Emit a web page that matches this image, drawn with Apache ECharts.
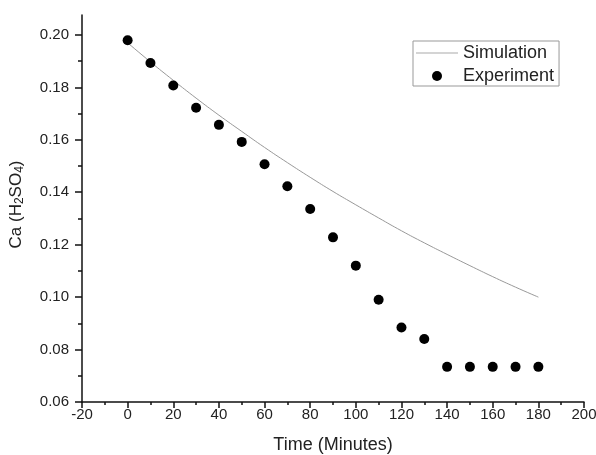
<!DOCTYPE html>
<html>
<head>
<meta charset="utf-8">
<script src="https://cdn.jsdelivr.net/npm/echarts@6/dist/echarts.min.js"></script>
<style>
  html, body { margin: 0; padding: 0; background: #fff; }
  #chart { width: 596px; height: 455px; }
</style>
</head>
<body>
<div id="chart"></div>
<script>
// time points (minutes)
var times = [0, 10, 20, 30, 40, 50, 60, 70, 80, 90, 100, 110, 120, 130, 140, 150, 160, 170, 180];
// simulated curve
var simulation = [0.197, 0.1897, 0.1827, 0.1759, 0.1694, 0.1632, 0.1571, 0.1513, 0.1457, 0.1403,
  0.1352, 0.1302, 0.1253, 0.1207, 0.1163, 0.1120, 0.1078, 0.1038, 0.1000];
// experimental points
var experiment = [0.198, 0.1893, 0.1807, 0.1722, 0.1657, 0.1592, 0.1507, 0.1423, 0.1336, 0.1228,
  0.112, 0.099, 0.0884, 0.084, 0.0734, 0.0734, 0.0734, 0.0734, 0.0734];
var yMajor = [0.06, 0.08, 0.10, 0.12, 0.14, 0.16, 0.18, 0.20];
var yMinor = [0.07, 0.09, 0.11, 0.13, 0.15, 0.17, 0.19];

var chart = echarts.init(document.getElementById('chart'));

var simData = [], expData = [];
for (var i = 0; i < times.length; i++) {
  simData.push([times[i], simulation[i]]);
  expData.push([times[i], experiment[i]]);
}

var fontFam = 'Liberation Sans, Arial, sans-serif';
var textCol = '#222';

var option = {
  backgroundColor: '#fff',
  animation: false,
  grid: { left: 82, right: 12, top: 15, bottom: 53, containLabel: false, outerBoundsMode: 'none' },
  legend: {
    show: true,
    orient: 'vertical',
    left: 413,
    top: 41,
    borderColor: '#999',
    borderWidth: 1,
    padding: [3, 5, 1, 3],
    itemGap: 5,
    itemWidth: 42,
    itemHeight: 10,
    textStyle: { fontFamily: fontFam, fontSize: 18, color: textCol },
    data: [
      { name: 'Simulation', icon: 'path://M0,0L42,0L42,1L0,1Z', itemStyle: { color: '#aaa' } },
      { name: 'Experiment', icon: 'circle' }
    ]
  },
  xAxis: {
    type: 'value',
    min: -20,
    max: 200,
    interval: 20,
    name: 'Time (Minutes)',
    nameLocation: 'middle',
    nameGap: 34,
    nameTextStyle: { fontFamily: fontFam, fontSize: 18, color: textCol },
    axisLine: { onZero: false, lineStyle: { color: '#111', width: 1.5 } },
    axisTick: { show: true, length: 6, lineStyle: { color: '#111', width: 1.5 } },
    minorTick: { show: true, splitNumber: 2, length: 3, lineStyle: { color: '#111', width: 1.5 } },
    axisLabel: { fontFamily: fontFam, fontSize: 15, color: textCol, margin: 5 },
    splitLine: { show: false }
  },
  yAxis: [
    {
      type: 'value',
      min: 0.06,
      max: 0.2076,
      name: 'Ca (H{sub|2}SO{sub|4})',
      nameLocation: 'middle',
      nameGap: 56,
      nameRotate: 90,
      nameTextStyle: {
        fontFamily: fontFam, fontSize: 17, color: textCol, padding: [0, 0, 0, 8],
        rich: { sub: { fontFamily: fontFam, fontSize: 12, color: textCol, verticalAlign: 'bottom', padding: [8, 0, 0, 0] } }
      },
      axisLine: { show: true, onZero: false, lineStyle: { color: '#111', width: 1.5 } },
      axisTick: { show: true, length: 7, customValues: yMajor, lineStyle: { color: '#111', width: 1.5 } },
      axisLabel: {
        fontFamily: fontFam, fontSize: 15, color: textCol, margin: 13,
        customValues: yMajor,
        formatter: function (v) { return v.toFixed(2); }
      },
      splitLine: { show: false }
    },
    {
      type: 'value',
      min: 0.06,
      max: 0.2076,
      position: 'left',
      axisLine: { show: false, onZero: false },
      axisTick: { show: true, length: 4, customValues: yMinor, lineStyle: { color: '#111', width: 1.5 } },
      axisLabel: { show: false },
      splitLine: { show: false }
    }
  ],
  series: [
    {
      name: 'Simulation',
      type: 'line',
      data: simData,
      smooth: true,
      symbol: 'none',
      lineStyle: { color: '#999', width: 1 },
      itemStyle: { color: '#999' },
      z: 2
    },
    {
      name: 'Experiment',
      type: 'scatter',
      data: expData,
      symbol: 'circle',
      symbolSize: 10,
      itemStyle: { color: '#000', opacity: 1 },
      z: 3
    }
  ]
};

chart.setOption(option);
</script>
</body>
</html>
